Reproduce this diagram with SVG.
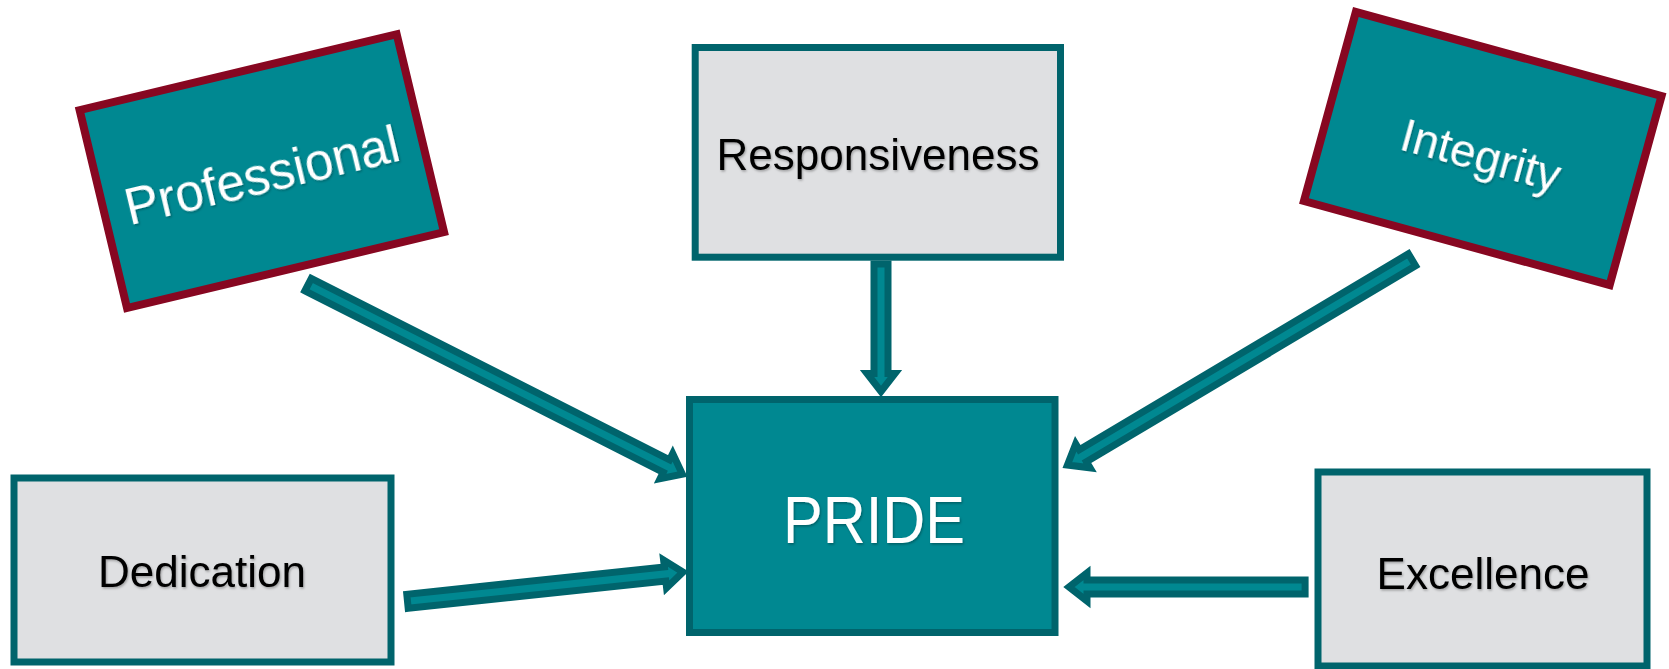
<svg xmlns="http://www.w3.org/2000/svg" width="1669" height="669" viewBox="0 0 1669 669">
  <defs>
    <style>
      .grey { fill: #dfe0e2; stroke: #00646c; stroke-width: 7; }
      .teal { fill: #008891; stroke: #00646c; stroke-width: 7; }
      .tealR { fill: #008891; stroke: #870721; stroke-width: 8; }
      .dark { font-family: "Liberation Sans", Arial, sans-serif; font-size: 44px; fill: #000000; text-anchor: middle; filter: url(#shadow); }
      .light { font-family: "Liberation Sans", Arial, sans-serif; fill: #ffffff; text-anchor: middle; filter: url(#shadow); }
      .arrow { fill: #008891; stroke: #00646c; stroke-width: 7; stroke-linejoin: miter; stroke-miterlimit: 10; }
    </style>
    <filter id="shadow" x="-10%" y="-20%" width="120%" height="150%">
      <feDropShadow dx="1" dy="1.5" stdDeviation="1" flood-color="#000000" flood-opacity="0.3"/>
    </filter>
  </defs>
  <rect width="1669" height="669" fill="#ffffff"/>

  <g id="node-professional" transform="translate(261.85 171.1) rotate(-13.46)">
    <rect class="tealR" x="-163" y="-101.75" width="326" height="203.5"/>
    <text class="light" x="-1" y="22" font-size="51">Professional</text>
  </g>

  <g id="node-responsiveness">
    <rect class="grey" x="695.2" y="47.5" width="365.3" height="209.7"/>
    <text class="dark" x="878" y="170">Responsiveness</text>
  </g>

  <g id="node-integrity" transform="translate(1482.75 148.5) rotate(15.35)">
    <rect class="tealR" x="-158.5" y="-98" width="317" height="196"/>
    <text class="light" x="0" y="23" font-size="46">Integrity</text>
  </g>

  <g id="node-pride">
    <rect class="teal" x="689.5" y="399.5" width="365.5" height="233"/>
    <text class="light" x="874" y="543" font-size="67" textLength="182" lengthAdjust="spacingAndGlyphs">PRIDE</text>
  </g>

  <g id="node-dedication">
    <rect class="grey" x="14" y="478" width="377" height="184"/>
    <text class="dark" x="202" y="587">Dedication</text>
  </g>

  <g id="node-excellence">
    <rect class="grey" x="1318" y="472" width="329" height="194"/>
    <text class="dark" x="1483" y="588.5">Excellence</text>
  </g>

  <g id="connectors">
    <polygon class="arrow" points="874,264 874,373.5 867,373.5 881,391.5 895,373.5 888,373.5 888,264"/>
    <polygon class="arrow" points="304.9,290.8 663.2,472.3 660.1,478.6 682.4,474.2 672.7,453.6 669.6,459.8 311.3,278.4"/>
    <polygon class="arrow" points="1408.4,253.8 1079.3,449.8 1075.7,443.8 1067.4,465.0 1090.1,467.8 1086.5,461.8 1415.6,265.8"/>
    <polygon class="arrow" points="408.2,608.3 665.8,581.0 666.6,587.9 683.0,572.1 663.6,560.1 664.4,567.0 406.8,594.3"/>
    <polygon class="arrow" points="1305.1,580 1087,580 1087,573 1069,587 1087,601 1087,594 1305.1,594"/>
  </g>
</svg>
